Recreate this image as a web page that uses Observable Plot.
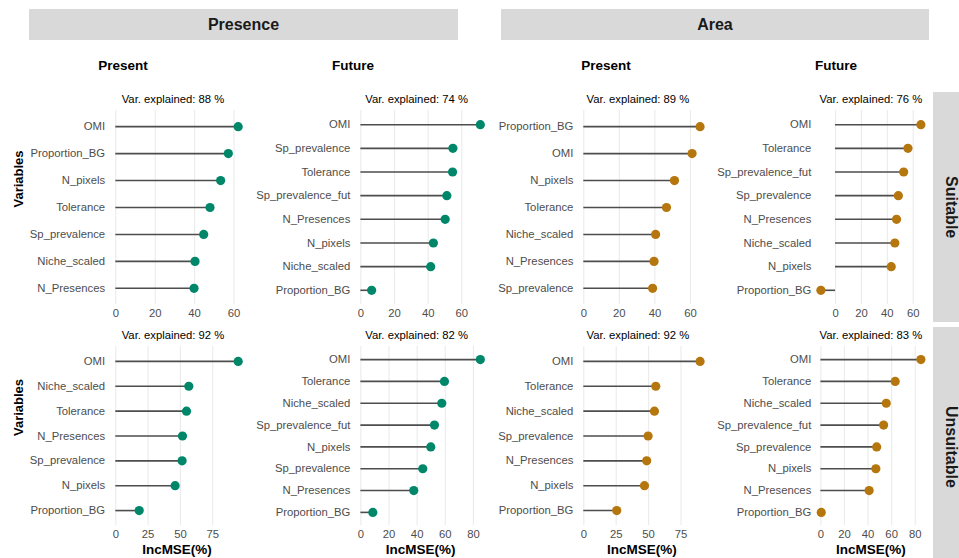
<!DOCTYPE html>
<html>
<head>
<meta charset="utf-8">
<script src="https://cdn.jsdelivr.net/npm/d3@7"></script>
<script src="https://cdn.jsdelivr.net/npm/@observablehq/plot@0.6"></script>
<style>
  body { margin: 0; background: #fff; }
  #chart { position: relative; width: 959px; height: 558px; overflow: hidden; background: #fff;
           font-family: "Liberation Sans", Arial, Helvetica, sans-serif; }
  .strip { position: absolute; background: #d9d9d9; color: #1a1a1a; font-weight: bold; font-size: 16px;
           display: flex; align-items: center; justify-content: center; }
  .strip.v { writing-mode: vertical-rl; }
  .sub { position: absolute; font-weight: bold; font-size: 13.5px; color: #000; white-space: nowrap;
         transform: translate(-50%, -50%); }
  .panel { position: absolute; }
</style>
</head>
<body>
<div id="chart"></div>
<script>
// Facet labels
const groups = ["Presence", "Area"];
const periods = ["Present", "Future", "Present", "Future"];
const habitats = ["Suitable", "Unsuitable"];

// Random-forest variable importance (IncMSE %), ordered top to bottom
// Row: Suitable
const presPresentSuitVars = ["OMI", "Proportion_BG", "N_pixels", "Tolerance", "Sp_prevalence", "Niche_scaled", "N_Presences"];
const presPresentSuitVals = [62.1, 57.1, 53.2, 47.8, 44.6, 40.2, 39.7];

const presFutureSuitVars = ["OMI", "Sp_prevalence", "Tolerance", "Sp_prevalence_fut", "N_Presences", "N_pixels", "Niche_scaled", "Proportion_BG"];
const presFutureSuitVals = [71.0, 54.7, 54.5, 51.1, 50.1, 43.1, 41.5, 6.4];

const areaPresentSuitVars = ["Proportion_BG", "OMI", "N_pixels", "Tolerance", "Niche_scaled", "N_Presences", "Sp_prevalence"];
const areaPresentSuitVals = [65.4, 60.9, 51.0, 46.5, 40.4, 39.5, 38.7];

const areaFutureSuitVars = ["OMI", "Tolerance", "Sp_prevalence_fut", "Sp_prevalence", "N_Presences", "Niche_scaled", "N_pixels", "Proportion_BG"];
const areaFutureSuitVals = [65.9, 55.9, 52.6, 48.5, 47.1, 45.8, 43.0, -11.3];

// Row: Unsuitable
const presPresentUnsVars = ["OMI", "Niche_scaled", "Tolerance", "N_Presences", "Sp_prevalence", "N_pixels", "Proportion_BG"];
const presPresentUnsVals = [94.7, 56.5, 54.7, 51.6, 51.3, 45.9, 18.1];

const presFutureUnsVars = ["OMI", "Tolerance", "Niche_scaled", "Sp_prevalence_fut", "N_pixels", "Sp_prevalence", "N_Presences", "Proportion_BG"];
const presFutureUnsVals = [84.9, 59.4, 57.5, 52.3, 49.7, 44.0, 37.6, 8.5];

const areaPresentUnsVars = ["OMI", "Tolerance", "Niche_scaled", "Sp_prevalence", "N_Presences", "N_pixels", "Proportion_BG"];
const areaPresentUnsVals = [89.7, 55.5, 54.5, 49.6, 48.5, 46.8, 25.4];

const areaFutureUnsVars = ["OMI", "Tolerance", "Niche_scaled", "Sp_prevalence_fut", "Sp_prevalence", "N_pixels", "N_Presences", "Proportion_BG"];
const areaFutureUnsVals = [84.8, 63.0, 55.4, 53.2, 47.3, 46.6, 40.9, 0.3];

// Variance explained per model
const varExplainedSuit = [88, 74, 89, 76];
const varExplainedUns = [92, 82, 92, 83];

// x-axis tick values per panel
const ticksSuit = [[0, 20, 40, 60], [0, 20, 40, 60], [0, 20, 40, 60], [0, 20, 40, 60]];
const ticksUns = [[0, 25, 50, 75], [0, 20, 40, 60, 80], [0, 25, 50, 75], [0, 20, 40, 60, 80]];

const groupColors = ["#00876a", "#b5760e"];
const xTitle = "IncMSE(%)";
const yTitle = "Variables";

// ---- layout (page pixels) ----
const colFrames = [[109.2, 243.8], [354.4, 485.8], [577.5, 705.4], [815.4, 925.4]];
const svgLefts = [0, 249, 472, 710];
const rowFrames = [[110, 304], [346, 525]];
const marginTop = 20, marginRight = 14, marginBottoms = [20, 34];

const panels = [
  {row: 0, col: 0, vars: presPresentSuitVars, vals: presPresentSuitVals, ve: varExplainedSuit[0], ticks: ticksSuit[0]},
  {row: 0, col: 1, vars: presFutureSuitVars, vals: presFutureSuitVals, ve: varExplainedSuit[1], ticks: ticksSuit[1]},
  {row: 0, col: 2, vars: areaPresentSuitVars, vals: areaPresentSuitVals, ve: varExplainedSuit[2], ticks: ticksSuit[2]},
  {row: 0, col: 3, vars: areaFutureSuitVars, vals: areaFutureSuitVals, ve: varExplainedSuit[3], ticks: ticksSuit[3]},
  {row: 1, col: 0, vars: presPresentUnsVars, vals: presPresentUnsVals, ve: varExplainedUns[0], ticks: ticksUns[0]},
  {row: 1, col: 1, vars: presFutureUnsVars, vals: presFutureUnsVals, ve: varExplainedUns[1], ticks: ticksUns[1]},
  {row: 1, col: 2, vars: areaPresentUnsVars, vals: areaPresentUnsVals, ve: varExplainedUns[2], ticks: ticksUns[2]},
  {row: 1, col: 3, vars: areaFutureUnsVars, vals: areaFutureUnsVals, ve: varExplainedUns[3], ticks: ticksUns[3]}
];

const chart = document.getElementById("chart");

function addDiv(cls, text, style) {
  const d = document.createElement("div");
  d.className = cls;
  d.textContent = text;
  Object.assign(d.style, style);
  chart.appendChild(d);
  return d;
}

// Group strips across the top
addDiv("strip", groups[0], {left: "29px", top: "9px", width: "429px", height: "31px"});
addDiv("strip", groups[1], {left: "500.7px", top: "9px", width: "428.6px", height: "31px"});

// Period titles
const periodCenters = [123, 353, 606, 836];
periods.forEach((p, i) => addDiv("sub", p, {left: periodCenters[i] + "px", top: "65px"}));

// Habitat strips on the right
addDiv("strip v", habitats[0], {left: "933.3px", top: "92.3px", width: "36px", height: "229.4px"});
addDiv("strip v", habitats[1], {left: "933.3px", top: "327.3px", width: "36px", height: "240px"});

for (const p of panels) {
  const [fx0, fx1] = colFrames[p.col];
  const [fy0, fy1] = rowFrames[p.row];
  const mb = marginBottoms[p.row];
  const left = svgLefts[p.col];
  const ml = fx0 - left;
  const width = ml + (fx1 - fx0) + marginRight;
  const height = marginTop + (fy1 - fy0) + mb;

  const data = p.vars.map((v, i) => ({variable: v, value: p.vals[i]}));
  const lo = Math.min(0, d3.min(p.vals));
  const hi = Math.max(0, d3.max(p.vals));
  const pad = 0.05 * (hi - lo);
  const color = groupColors[p.col < 2 ? 0 : 1];

  const marks = [
    Plot.ruleX(p.ticks, {stroke: "#ebebeb", strokeWidth: 1.1}),
    Plot.ruleY(data, {y: "variable", x1: 0, x2: "value", stroke: "#4d4d4d", strokeWidth: 1.6}),
    Plot.dot(data, {x: "value", y: "variable", r: 4.6, fill: color, stroke: "none"}),
    Plot.text([`Var. explained: ${p.ve} %`], {frameAnchor: "top", lineAnchor: "middle", dy: -11.5, dx: p.col < 3 ? -4 : 0, fill: "#000", fontSize: 11.3})
  ];
  if (p.col === 0) {
    marks.push(Plot.text([yTitle], {frameAnchor: "left", lineAnchor: "middle", rotate: -90, dx: -90.5, fill: "#000", fontSize: 13, fontWeight: "bold"}));
  }
  if (p.row === 1) {
    marks.push(Plot.text([xTitle], {frameAnchor: "bottom", lineAnchor: "middle", dy: 24.5, fill: "#000", fontSize: 13.5, fontWeight: "bold"}));
  }

  const svg = Plot.plot({
    width, height,
    marginLeft: ml, marginRight, marginTop, marginBottom: mb,
    style: {background: "transparent", overflow: "visible", fontFamily: '"Liberation Sans", Arial, sans-serif', fontSize: "11.3px", color: "#4d4d4d"},
    x: {domain: [lo - pad, hi + pad], ticks: p.ticks, tickSize: 0, tickPadding: 4.5, tickFormat: d => String(d), label: null},
    y: {type: "point", domain: p.vars, padding: 0.6, round: false, tickSize: 0, tickPadding: 4.6, label: null},
    marks
  });
  svg.classList.add("panel");
  svg.style.left = left + "px";
  svg.style.top = (fy0 - marginTop) + "px";
  svg.style.maxWidth = "none";
  chart.appendChild(svg);
}
</script>
</body>
</html>
